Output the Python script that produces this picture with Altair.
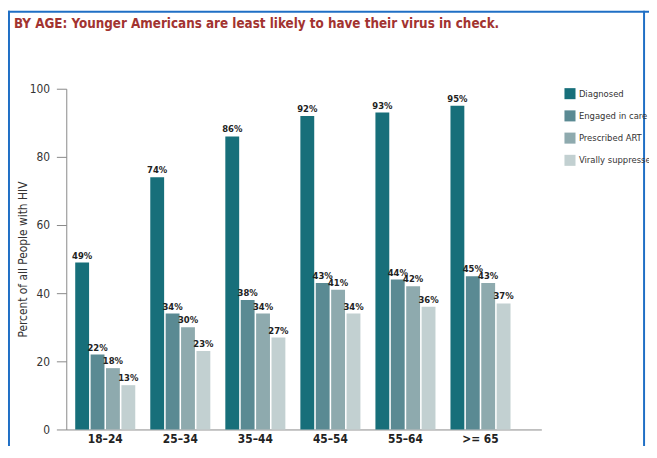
import altair as alt
import pandas as pd

ages = ["18–24", "25–34", "35–44", "45–54", "55–64", ">= 65"]
stages = ["Diagnosed", "Engaged in care", "Prescribed ART", "Virally suppressed"]
diagnosed = [49, 74, 86, 92, 93, 95]
engaged = [22, 34, 38, 43, 44, 45]
prescribed = [18, 30, 34, 41, 42, 43]
suppressed = [13, 23, 27, 34, 36, 37]
colors = ["#176f7a", "#5a8a93", "#8eaaae", "#c2d0d1"]

rows = []
for series_name, vals in zip(stages, [diagnosed, engaged, prescribed, suppressed]):
    for a, v in zip(ages, vals):
        rows.append({"age": a, "stage": series_name, "value": v, "label": f"{v}%"})
df = pd.DataFrame(rows)

FONT = "DejaVu Sans Condensed, Roboto, sans-serif"

x_enc = alt.X(
    "age:N", sort=ages, title=None,
    scale=alt.Scale(paddingInner=0.2, paddingOuter=0.265, align=0.225),
    axis=alt.Axis(labelFont=FONT, labelFontSize=12, labelFontWeight="bold",
                  labelColor="#222222", ticks=False, domainColor="#888888",
                  labelPadding=4, labelAngle=0),
)
xoff = alt.XOffset("stage:N", sort=stages, scale=alt.Scale(paddingInner=0.1))

bars = alt.Chart(df).mark_bar().encode(
    x=x_enc,
    xOffset=xoff,
    y=alt.Y("value:Q", scale=alt.Scale(domain=[0, 100]),
            title="Percent of all People with HIV",
            axis=alt.Axis(values=[0, 20, 40, 60, 80, 100], grid=False,
                          labelFont=FONT, labelFontSize=12, labelColor="#333333",
                          labelPadding=7,
                          titleFont=FONT, titleFontSize=12, titleFontWeight="normal",
                          titleColor="#333333", titlePadding=0,
                          domainColor="#888888", tickColor="#888888", tickSize=10)),
    color=alt.Color("stage:N", sort=stages,
                    scale=alt.Scale(domain=stages, range=colors),
                    legend=alt.Legend(title=None, orient="none", legendX=504, legendY=-1,
                                      symbolType="square", symbolSize=125,
                                      symbolStrokeWidth=0, labelFont=FONT,
                                      labelFontSize=9.5, labelColor="#333333",
                                      rowPadding=10.5, labelOffset=3)),
)

labels = alt.Chart(df).mark_text(
    dy=-7, font=FONT, fontSize=9.5, fontWeight="bold", color="#222222"
).encode(
    x=alt.X("age:N", sort=ages),
    xOffset=xoff,
    y="value:Q",
    text="label:N",
)

frame_df = pd.DataFrame({"k": [0]})
frame_color = "#1f6fc5"
left_line = alt.Chart(frame_df).mark_rule(color=frame_color, strokeWidth=2).encode(
    x=alt.value(-58), y=alt.value(-79), y2=alt.value(370))
top_line = alt.Chart(frame_df).mark_rule(color=frame_color, strokeWidth=2).encode(
    y=alt.value(-78), x=alt.value(-59), x2=alt.value(590))
right_line = alt.Chart(frame_df).mark_rule(color=frame_color, strokeWidth=2).encode(
    x=alt.value(585), y=alt.value(-79), y2=alt.value(370))

chart = alt.layer(bars, labels, left_line, top_line, right_line).properties(
    width=481, height=345,
    autosize=alt.AutoSizeParams(type="none"),
    padding={"left": 59, "top": 79, "right": 109, "bottom": 14},
    title=alt.TitleParams(
        "BY AGE: Younger Americans are least likely to have their virus in check.",
        anchor="start", dx=7, offset=-21, font=FONT, fontSize=13.5,
        fontWeight="bold", color="#a23330"),
).configure_view(stroke=None)

chart.save("out.html", embed_options={"renderer": "svg", "actions": False})
